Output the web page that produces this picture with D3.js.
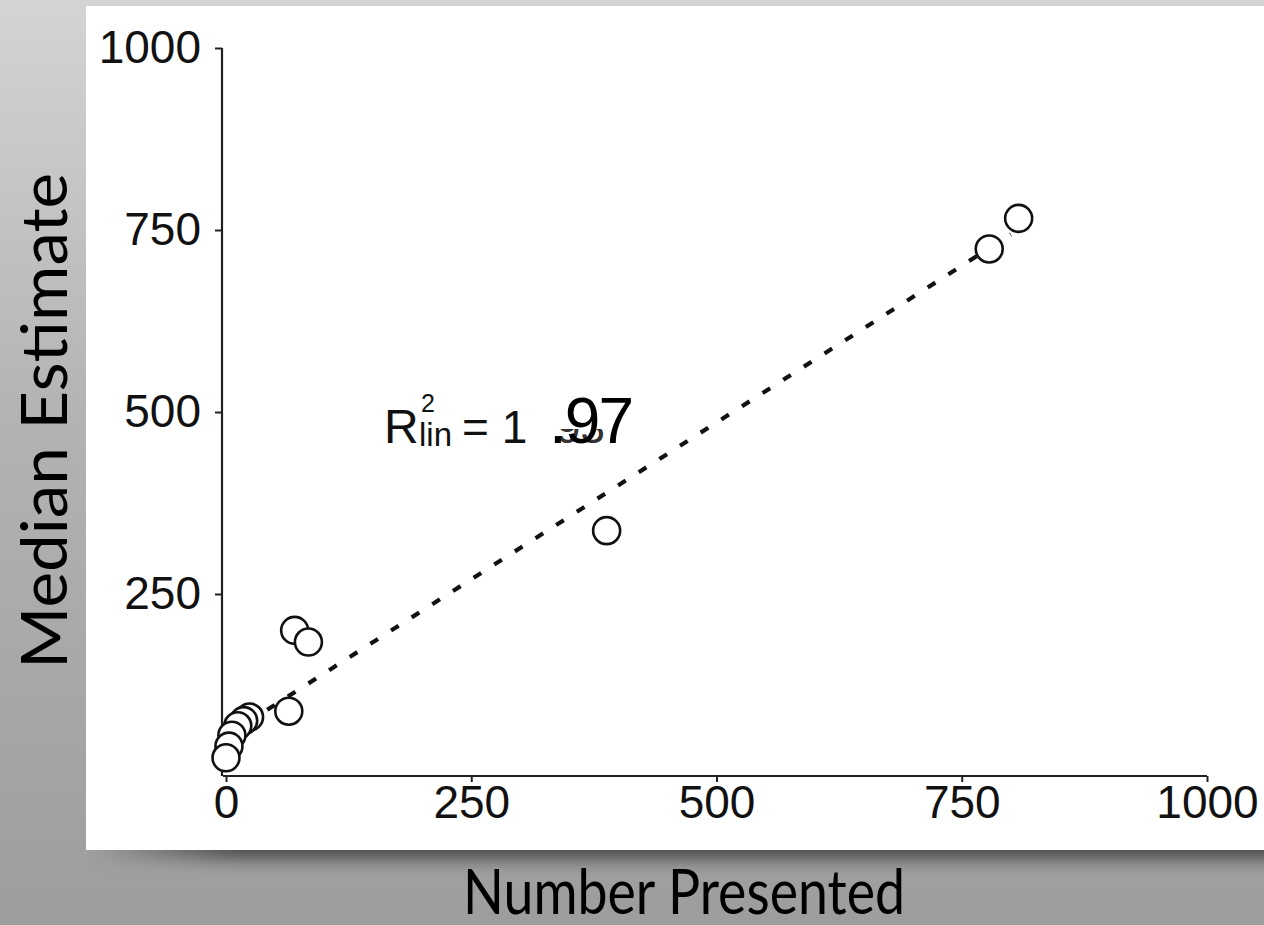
<!DOCTYPE html>
<html>
<head>
<meta charset="utf-8">
<script src="https://cdn.jsdelivr.net/npm/d3@7"></script>
<style>
  html, body { margin: 0; padding: 0; overflow: hidden; }
  svg { display: block; }
</style>
</head>
<body>
<div id="chart"></div>
<script>
// data
var presented = [808, 778, 388, 70, 84, 64, 24, 18, 12, 6, 3, 0];
var estimate  = [766, 724, 337, 200, 184, 89, 81, 76, 69, 56, 41, 25];
var xTicks = [0, 250, 500, 750, 1000];
var yTicks = [250, 500, 750, 1000];
// ends of the dotted fit line
var fitX = [42, 800];
var fitY = [91, 744];

var W = 1264, H = 925;

var svg = d3.select("#chart")
    .append("svg")
    .attr("width", W)
    .attr("height", H);

var defs = svg.append("defs");

// grey slide background
var bg = defs.append("linearGradient")
    .attr("id", "bg")
    .attr("x1", "0%").attr("y1", "0%")
    .attr("x2", "0%").attr("y2", "100%");
bg.append("stop").attr("offset", "0%").attr("stop-color", "#d4d4d4");
bg.append("stop").attr("offset", "45%").attr("stop-color", "#b3b3b3");
bg.append("stop").attr("offset", "100%").attr("stop-color", "#9d9d9d");

var shadeGrad = defs.append("linearGradient")
    .attr("id", "shadeGrad")
    .attr("x1", "0%").attr("y1", "0%")
    .attr("x2", "100%").attr("y2", "0%");
shadeGrad.append("stop").attr("offset", "0%").attr("stop-color", "#000").attr("stop-opacity", 0);
shadeGrad.append("stop").attr("offset", "12%").attr("stop-color", "#000").attr("stop-opacity", 0.6);
shadeGrad.append("stop").attr("offset", "100%").attr("stop-color", "#000").attr("stop-opacity", 0.6);

defs.append("filter")
    .attr("id", "blur")
    .attr("x", "-10%").attr("y", "-100%")
    .attr("width", "120%").attr("height", "300%")
  .append("feGaussianBlur")
    .attr("stdDeviation", 9);

// only the lower part of the old value shows through
defs.append("clipPath")
    .attr("id", "oldClip")
  .append("rect")
    .attr("x", 540).attr("y", 429)
    .attr("width", 120).attr("height", 30);

svg.append("rect")
    .attr("width", W)
    .attr("height", H)
    .attr("fill", "url(#bg)");

// shadow under the white picture
svg.append("rect")
    .attr("x", 90)
    .attr("y", 836)
    .attr("width", 1220)
    .attr("height", 22)
    .attr("fill", "url(#shadeGrad)")
    .attr("filter", "url(#blur)");

// white picture panel
svg.append("rect")
    .attr("x", 86)
    .attr("y", 6)
    .attr("width", 1200)
    .attr("height", 844)
    .attr("fill", "#fff");

// scales
var x = d3.scaleLinear().domain([0, 1000]).range([226, 1207]);
var y = d3.scaleLinear().domain([0, 1000]).range([776, 48]);

var tickFont = "'Liberation Sans', Arial, Helvetica, sans-serif";

// y axis
var yAxis = svg.append("g")
    .attr("transform", "translate(222,0)")
    .call(d3.axisLeft(y).tickValues(yTicks).tickFormat(d3.format("d"))
        .tickSize(7).tickSizeOuter(0).tickPadding(14));

// x axis
var xAxis = svg.append("g")
    .attr("transform", "translate(0,776)")
    .call(d3.axisBottom(x).tickValues(xTicks).tickFormat(d3.format("d"))
        .tickSize(6).tickSizeOuter(0).tickPadding(3));

[yAxis, xAxis].forEach(function(a) {
    a.select(".domain").attr("stroke", "#222").attr("stroke-width", 2.2);
    a.selectAll(".tick line").attr("stroke", "#222").attr("stroke-width", 2);
    a.selectAll(".tick text")
        .attr("fill", "#111")
        .style("font-family", tickFont)
        .style("font-size", "46px");
});
yAxis.select(".domain").attr("d", "M0," + y(0) + "V" + y(1000));
xAxis.select(".domain").attr("d", "M" + (x(0) - 3) + ",0H" + x(1000));
xAxis.selectAll(".tick text").attr("dy", "0.72em");

// dotted fit line
var fit = fitX.map(function(d, i) { return { x: d, y: fitY[i] }; });
svg.append("path")
    .datum(fit)
    .attr("d", d3.line().x(function(d) { return x(d.x); }).y(function(d) { return y(d.y); }))
    .attr("fill", "none")
    .attr("stroke", "#111")
    .attr("stroke-width", 4.2)
    .attr("stroke-dasharray", "9,15.5");

// open circles
var points = presented.map(function(d, i) { return { x: d, y: estimate[i] }; });
svg.append("g")
    .selectAll("circle")
    .data(points)
    .enter()
    .append("circle")
    .attr("cx", function(d) { return x(d.x); })
    .attr("cy", function(d) { return y(d.y); })
    .attr("r", 13.5)
    .attr("fill", "#fff")
    .attr("stroke", "#111")
    .attr("stroke-width", 2.6);

// R squared note
var note = svg.append("g").style("font-family", tickFont).attr("fill", "#111");
note.append("text").attr("x", 384).attr("y", 443).style("font-size", "48px").text("R");
note.append("text").attr("x", 421).attr("y", 412).style("font-size", "25px").text("2");
note.append("text").attr("x", 419).attr("y", 446).style("font-size", "33px").text("lin");
note.append("text").attr("x", 462).attr("y", 443).style("font-size", "46px").text("= 1");
note.append("text").attr("x", 556).attr("y", 443).attr("clip-path", "url(#oldClip)")
    .attr("fill", "#333").style("font-size", "44px").text("93");
note.append("text").attr("x", 549).attr("y", 443).attr("fill", "#000")
    .style("font-size", "64px").style("letter-spacing", "-2px").text(".97");

// axis titles
var titleFont = "Lato, 'Open Sans', sans-serif";
svg.append("text")
    .attr("x", 684)
    .attr("y", 914)
    .attr("text-anchor", "middle")
    .attr("textLength", 442)
    .attr("lengthAdjust", "spacingAndGlyphs")
    .style("font-family", titleFont)
    .style("font-size", "61px")
    .attr("fill", "#000")
    .text("Number Presented");

svg.append("text")
    .attr("transform", "translate(67,421) rotate(-90)")
    .attr("text-anchor", "middle")
    .attr("textLength", 496)
    .attr("lengthAdjust", "spacingAndGlyphs")
    .style("font-family", titleFont)
    .style("font-size", "63px")
    .attr("fill", "#000")
    .text("Median Estimate");
</script>
</body>
</html>
